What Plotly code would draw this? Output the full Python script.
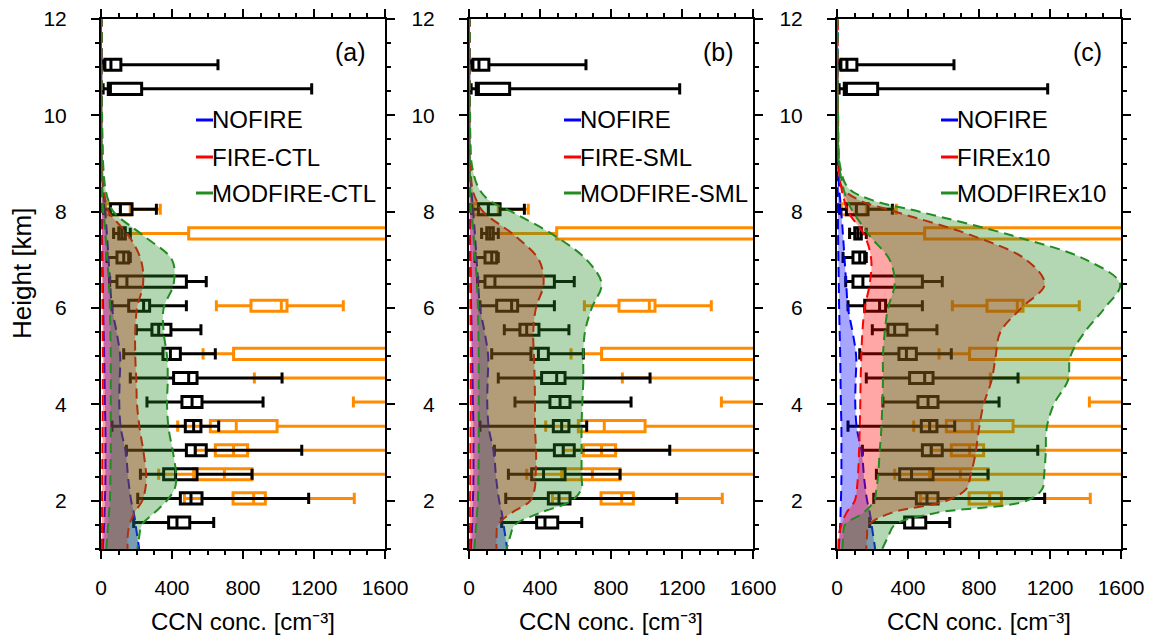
import plotly.graph_objects as go

# ---------------- data ----------------
# heights of the model profile envelopes [km]
H = [1.0, 1.25, 1.5, 1.75, 2.0, 2.25, 2.5, 3.0, 3.5, 4.0, 4.5, 5.0, 5.5, 6.0,
     6.5, 7.0, 7.5, 8.0, 8.25, 8.5, 9.0, 10.0, 11.0, 12.0]

# NOFIRE envelope (same run in every panel)
nofire_lo = [10, 14, 18, 20, 22, 24, 25, 25, 25, 22, 20, 18, 15, 12, 10, 8, 6, 5, 4, 3, 2, 1, 1, 0.5]
nofire_hi = [215, 205, 195, 185, 170, 160, 152, 140, 112, 103, 105, 108, 88, 62, 52, 43, 34, 24, 18, 12, 8, 5, 3, 2]

# FIRE-CTL / MODFIRE-CTL
fire_ctl_lo = [5, 5, 6, 6, 6, 7, 7, 8, 9, 10, 10, 10, 9, 8, 7, 5, 4, 3, 2, 2, 1, 1, 0.5, 0.3]
fire_ctl_hi = [150, 150, 160, 188, 232, 250, 255, 240, 218, 203, 199, 193, 193, 203, 237, 225, 156, 43, 25, 15, 9, 5, 3, 2]
mod_ctl_lo = [30, 35, 40, 45, 50, 52, 53, 55, 55, 55, 55, 55, 53, 50, 45, 35, 25, 12, 8, 5, 3, 2, 1, 0.5]
mod_ctl_hi = [205, 215, 230, 300, 370, 415, 424, 406, 381, 372, 376, 372, 353, 353, 409, 400, 240, 70, 40, 24, 12, 6, 3, 2]

# FIRE-SML / MODFIRE-SML
fire_sml_lo = [5, 5, 6, 6, 6, 7, 7, 8, 9, 10, 10, 10, 9, 8, 7, 5, 4, 3, 2, 2, 1, 1, 0.5, 0.3]
fire_sml_hi = [155, 155, 163, 240, 345, 370, 375, 378, 372, 372, 370, 366, 362, 377, 420, 394, 259, 80, 40, 18, 9, 5, 3, 2]
mod_sml_lo = [30, 35, 40, 45, 50, 52, 53, 55, 55, 55, 55, 55, 53, 50, 45, 35, 25, 12, 8, 5, 3, 2, 1, 0.5]
mod_sml_hi = [212, 231, 259, 400, 578, 634, 634, 634, 634, 638, 644, 644, 653, 691, 747, 663, 484, 240, 109, 53, 15, 6, 3, 2]

# FIREx10 / MODFIREx10
fire_x10_lo = [8, 10, 24, 53, 100, 112, 118, 124, 128, 131, 133, 137, 143, 156, 184, 193, 156, 62, 40, 24, 8, 3, 1, 0.5]
fire_x10_hi = [165, 169, 180, 306, 616, 729, 751, 781, 800, 826, 871, 894, 920, 1038, 1170, 1067, 766, 330, 120, 30, 12, 6, 3, 2]
mod_x10_lo = [30, 35, 45, 148, 210, 222, 231, 240, 250, 255, 259, 259, 269, 287, 325, 297, 184, 90, 55, 35, 10, 4, 2, 1]
mod_x10_hi = [255, 287, 325, 560, 1067, 1157, 1166, 1176, 1181, 1221, 1301, 1315, 1395, 1508, 1595, 1405, 992, 466, 190, 62, 15, 6, 3, 2]

# aircraft observations, black boxes [cm-3]
obs_k_h = [11.05, 10.55, 8.05, 7.55, 7.05, 6.55, 6.05, 5.55, 5.05, 4.55, 4.05, 3.55, 3.05, 2.55, 2.05, 1.55]
obs_k_min = [6, 12, 15, 71, 34, 49, 62, 199, 128, 165, 259, 62, 143, 222, 207, 184]
obs_k_q1 = [22, 41, 53, 100, 90, 90, 156, 287, 349, 409, 456, 475, 481, 353, 447, 381]
obs_k_med = [56, 53, 109, 118, 128, 146, 240, 325, 391, 494, 513, 522, 531, 420, 507, 428]
obs_k_q3 = [112, 229, 175, 137, 156, 481, 274, 394, 447, 541, 569, 563, 593, 541, 569, 500]
obs_k_max = [659, 1187, 312, 165, 165, 593, 481, 563, 644, 1020, 913, 663, 1131, 851, 1170, 635]

# aircraft observations, orange boxes [cm-3]
obs_o_h = [8.05, 7.55, 6.05, 5.05, 4.55, 4.05, 3.55, 3.05, 2.55, 2.05]
obs_o_min = [15, 71, 650, 575, 864, 1422, 432, 531, 325, 470]
obs_o_q1 = [24, 494, 845, 747, 1750, 1900, 616, 644, 522, 744]
obs_o_med = [110, 1900, 1016, 1800, 2000, 2200, 762, 747, 695, 860]
obs_o_q3 = [165, 2600, 1048, 2500, 2400, 2600, 992, 826, 851, 926]
obs_o_max = [334, 3500, 1365, 3800, 3200, 3400, 2400, 2600, 2800, 1427]

panel_tags = ["(a)", "(b)", "(c)"]
legend_names = [
    ["NOFIRE", "FIRE-CTL", "MODFIRE-CTL"],
    ["NOFIRE", "FIRE-SML", "MODFIRE-SML"],
    ["NOFIRE", "FIREx10", "MODFIREx10"],
]
profiles = [
    [(nofire_lo, nofire_hi), (fire_ctl_lo, fire_ctl_hi), (mod_ctl_lo, mod_ctl_hi)],
    [(nofire_lo, nofire_hi), (fire_sml_lo, fire_sml_hi), (mod_sml_lo, mod_sml_hi)],
    [(nofire_lo, nofire_hi), (fire_x10_lo, fire_x10_hi), (mod_x10_lo, mod_x10_hi)],
]

# ---------------- styling ----------------
W, HGT = 1151, 636
FONT = "Liberation Sans, Arial, Helvetica, sans-serif"
line_cols = ["#0000ff", "#ff0000", "#228b22"]
fill_cols = ["rgba(0,0,255,0.35)", "rgba(255,0,0,0.35)", "rgba(34,139,34,0.35)"]
ORANGE = "#ff8c00"

# pixel frame of each panel
x_px = [(101, 385), (469, 753), (837, 1121)]
y_px = (19, 549)
legend_text_x = [213, 581, 958]
legend_rows_y = [120, 157, 193]
tag_xy = [(350, 52), (718, 52), (1087, 52)]


def px(x):
    return x / W


def py(y):
    return (HGT - y) / HGT


fig = go.Figure()
annotations = []
shapes = []

for i in range(3):
    sfx = "" if i == 0 else str(i + 1)
    xa, ya = "x" + sfx, "y" + sfx

    # observation boxes (drawn beneath the envelopes)
    fig.add_trace(go.Box(
        orientation="h", y=obs_o_h, q1=obs_o_q1, median=obs_o_med, q3=obs_o_q3,
        lowerfence=obs_o_min, upperfence=obs_o_max, width=0.23, whiskerwidth=1,
        line=dict(color=ORANGE, width=3), fillcolor="rgba(0,0,0,0)",
        boxpoints=False, xaxis=xa, yaxis=ya, showlegend=False, hoverinfo="skip"))
    fig.add_trace(go.Box(
        orientation="h", y=obs_k_h, q1=obs_k_q1, median=obs_k_med, q3=obs_k_q3,
        lowerfence=obs_k_min, upperfence=obs_k_max, width=0.23, whiskerwidth=1,
        line=dict(color="black", width=3), fillcolor="rgba(0,0,0,0)",
        boxpoints=False, xaxis=xa, yaxis=ya, showlegend=False, hoverinfo="skip"))

    # shaded envelopes with dashed outlines
    for j, (lo, hi) in enumerate(profiles[i]):
        fig.add_trace(go.Scatter(
            x=list(lo) + list(hi)[::-1], y=list(H) + list(H)[::-1],
            mode="lines", fill="toself", fillcolor=fill_cols[j],
            line=dict(color=line_cols[j], width=2, dash="10px,6px", shape="spline", smoothing=1.0),
            xaxis=xa, yaxis=ya, showlegend=False, hoverinfo="skip"))

    x0, x1 = x_px[i]
    axis_common = dict(
        showline=True, linecolor="black", linewidth=2, mirror="allticks",
        ticks="outside", ticklen=8, tickwidth=2, tickcolor="black",
        showgrid=False, zeroline=False, automargin=False,
        tickfont=dict(family=FONT, size=21, color="black"),
    )
    fig.layout["xaxis" + sfx] = dict(
        axis_common, domain=[px(x0), px(x1)], range=[0, 1600], tick0=0, dtick=400,
        anchor=ya, ticklabelstandoff=11,
        minor=dict(dtick=100, tick0=0, ticklen=4, tickwidth=1.5, ticks="outside",
                   tickcolor="black", showgrid=False))
    fig.layout["yaxis" + sfx] = dict(
        axis_common, domain=[py(y_px[1]), py(y_px[0])], range=[1, 12], tick0=0, dtick=2,
        anchor=xa, ticklabelstandoff=20,
        minor=dict(dtick=0.5, tick0=0, ticklen=4, tickwidth=1.5, ticks="outside",
                   tickcolor="black", showgrid=False))

    # x-axis title
    annotations.append(dict(
        x=px((x0 + x1) / 2), y=py(621), xref="paper", yref="paper",
        text="CCN conc. [cm\u207b\u00b3]", showarrow=False,
        font=dict(family=FONT, size=24, color="black"), xanchor="center", yanchor="middle"))

    # panel tag
    tx, ty = tag_xy[i]
    annotations.append(dict(
        x=px(tx), y=py(ty), xref="paper", yref="paper", text=panel_tags[i],
        showarrow=False, font=dict(family=FONT, size=25, color="black"),
        xanchor="center", yanchor="middle"))

    # legend keys
    for j, name in enumerate(legend_names[i]):
        lx = legend_text_x[i]
        ly = legend_rows_y[j]
        shapes.append(dict(type="line", xref="paper", yref="paper",
                           x0=px(lx - 17), x1=px(lx), y0=py(ly), y1=py(ly),
                           line=dict(color=line_cols[j], width=3)))
        annotations.append(dict(
            x=px(lx), y=py(ly), xref="paper", yref="paper", text=name,
            showarrow=False, font=dict(family=FONT, size=24, color="black"),
            xanchor="left", yanchor="middle", xshift=-3))

annotations.append(dict(
    x=px(22), y=py(273), xref="paper", yref="paper", text="Height [km]",
    showarrow=False, textangle=-90, font=dict(family=FONT, size=26, color="black"),
    xanchor="center", yanchor="middle"))

fig.update_layout(
    width=W, height=HGT, margin=dict(l=0, r=0, t=0, b=0, autoexpand=False),
    paper_bgcolor="white", plot_bgcolor="white",
    showlegend=False, annotations=annotations, shapes=shapes,
    boxmode="overlay",
)

fig.write_html("out.html")
